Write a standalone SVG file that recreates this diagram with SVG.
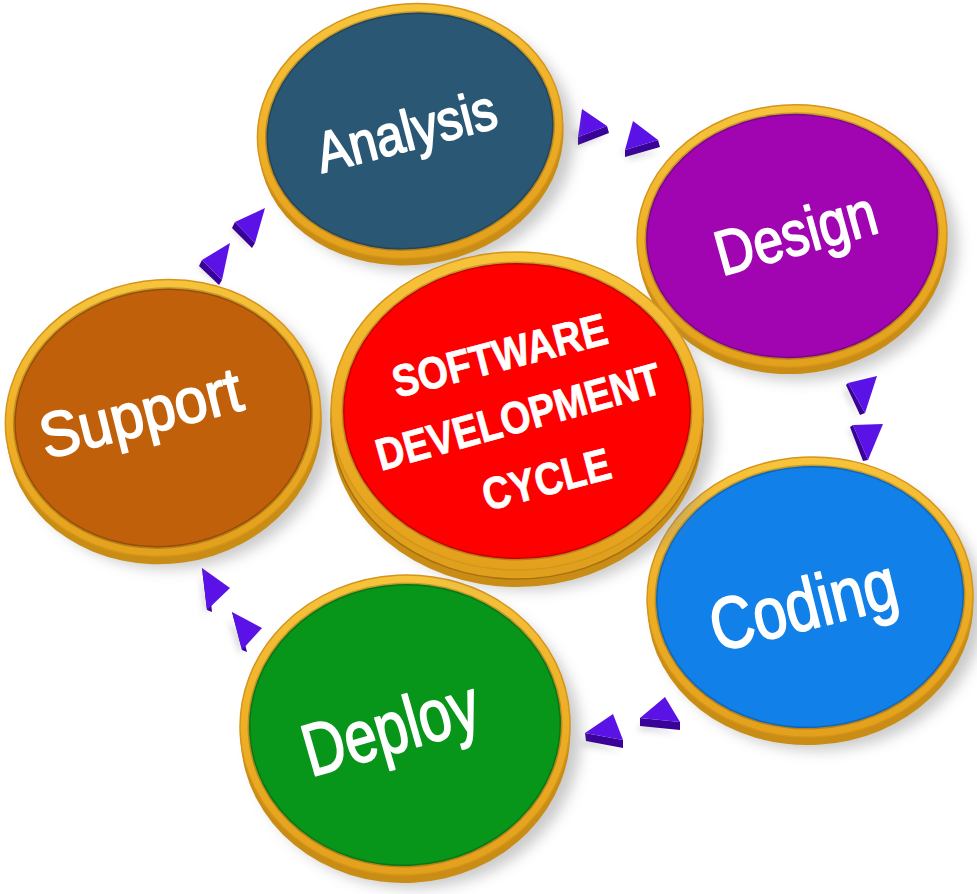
<svg xmlns="http://www.w3.org/2000/svg" width="977" height="894" viewBox="0 0 977 894">
<defs>
  <linearGradient id="gold" x1="0" y1="0" x2="0" y2="1">
    <stop offset="0" stop-color="#f7c43c"/>
    <stop offset="0.5" stop-color="#eeae25"/>
    <stop offset="1" stop-color="#e3a01c"/>
  </linearGradient>
  <filter id="blur" x="-20%" y="-20%" width="140%" height="140%">
    <feGaussianBlur stdDeviation="7"/>
  </filter>
  <filter id="ablur" x="-50%" y="-50%" width="200%" height="200%">
    <feGaussianBlur stdDeviation="3"/>
  </filter>
</defs>
<style>
  .shadow { fill: #8a8a8a; opacity: 0.45; filter: url(#blur); }
  .thick { fill: #c98c14; }
  .rim { fill: url(#gold); stroke: #d4951a; stroke-width: 1.5; }
  .face { stroke: rgba(0,0,0,0.2); stroke-width: 3; }
  .lbl { font-family: "Liberation Sans", Arial, sans-serif; fill: #ffffff; stroke: #ffffff; stroke-width: 1.8; stroke-linejoin: round; }
  .ctr { font-family: "Liberation Sans", Arial, sans-serif; font-weight: bold; fill: #ffffff; stroke: #ffffff; stroke-width: 0.8; font-size: 45px; }
  .atop { fill: #5a12e6; }
  .abot { fill: #3a0398; }
  .ash { fill: #9a9a9a; opacity: 0.35; filter: url(#ablur); }
</style>
<rect width="977" height="894" fill="#ffffff"/>

<g id="connectors">
  <!-- Analysis -> Design -->
  <g>
    <polygon class="ash" points="572,130 606,136 578,148"/>
    <polygon class="abot" points="578,137 607,126 609,133 578,145"/>
    <polygon class="atop" points="582,109 607,126 578,137"/>
    <polygon class="ash" points="620,150 660,152 630,160"/>
    <polygon class="abot" points="625,150 658,140 660,147 625,157"/>
    <polygon class="atop" points="633,121 658,140 625,150"/>
  </g>
  <!-- Design -> Coding -->
  <g>
    <polygon class="ash" points="843,392 860,420 850,386"/>
    <polygon class="abot" points="846,385 848,383 865,413 860,415"/>
    <polygon class="atop" points="848,383 877,376 865,413"/>
    <polygon class="ash" points="848,430 866,462 856,428"/>
    <polygon class="abot" points="850,427 853,425 868,460 863,461"/>
    <polygon class="atop" points="853,425 883,424 868,460"/>
  </g>
  <!-- Coding -> Deploy -->
  <g>
    <polygon class="ash" points="578,745 620,752 590,738"/>
    <polygon class="abot" points="585,733 623,740 623,748 586,741"/>
    <polygon class="atop" points="585,733 613,714 623,740"/>
    <polygon class="ash" points="636,730 678,734 646,722"/>
    <polygon class="abot" points="640,718 680,722 680,730 640,726"/>
    <polygon class="atop" points="640,718 665,697 680,722"/>
  </g>
  <!-- Deploy -> Support -->
  <g>
    <polygon class="ash" points="200,575 204,616 212,600"/>
    <polygon class="abot" points="202,568 207,610 212,612 208,575"/>
    <polygon class="atop" points="202,568 230,588 207,610"/>
    <polygon class="ash" points="228,620 240,656 246,636"/>
    <polygon class="abot" points="232,612 242,650 247,652 238,618"/>
    <polygon class="atop" points="232,612 262,628 242,650"/>
  </g>
  <!-- Support -> Analysis -->
  <g>
    <polygon class="ash" points="232,230 252,250 240,220"/>
    <polygon class="abot" points="235,222 255,243 252,248 232,228"/>
    <polygon class="atop" points="265,208 235,222 255,243"/>
    <polygon class="ash" points="198,268 220,286 208,258"/>
    <polygon class="abot" points="202,260 222,280 219,285 199,266"/>
    <polygon class="atop" points="230,243 202,260 222,280"/>
  </g>
</g>

<g id="node-analysis">
  <g transform="translate(410,131) rotate(-8)">
    <ellipse class="shadow" cx="10" cy="14" rx="153" ry="127"/>
    <ellipse class="thick" cx="0" cy="7" rx="153" ry="127"/>
    <ellipse class="rim" cx="0" cy="0" rx="153" ry="127"/>
    <ellipse class="face" cx="0" cy="0" rx="144" ry="118" fill="#2a5773"/>
  </g>
  <text class="lbl" font-size="57" textLength="184" lengthAdjust="spacingAndGlyphs" transform="translate(322,173) rotate(-14.5)">Analysis</text>
</g>

<g id="node-design">
  <g transform="translate(792,236) rotate(-4)">
    <ellipse class="shadow" cx="10" cy="14" rx="155" ry="131"/>
    <ellipse class="thick" cx="0" cy="7" rx="155" ry="131"/>
    <ellipse class="rim" cx="0" cy="0" rx="155" ry="131"/>
    <ellipse class="face" cx="0" cy="0" rx="146" ry="122" fill="#a104b1"/>
  </g>
  <text class="lbl" font-size="63" textLength="165" lengthAdjust="spacingAndGlyphs" transform="translate(722,276) rotate(-15.5)">Design</text>
</g>

<g id="node-coding">
  <g transform="translate(810,597) rotate(-3)">
    <ellipse class="shadow" cx="10" cy="14" rx="163" ry="140"/>
    <ellipse class="thick" cx="0" cy="8" rx="163" ry="140"/>
    <ellipse class="rim" cx="0" cy="0" rx="163" ry="140"/>
    <ellipse class="face" cx="0" cy="0" rx="154" ry="131" fill="#1180e8"/>
  </g>
  <text class="lbl" font-size="73" textLength="190" lengthAdjust="spacingAndGlyphs" transform="translate(717,652) rotate(-14)">Coding</text>
</g>

<g id="node-deploy">
  <g transform="translate(405,725) rotate(-3)">
    <ellipse class="shadow" cx="10" cy="14" rx="165" ry="150"/>
    <ellipse class="thick" cx="0" cy="8" rx="165" ry="150"/>
    <ellipse class="rim" cx="0" cy="0" rx="165" ry="150"/>
    <ellipse class="face" cx="0" cy="0" rx="156" ry="141" fill="#07951a"/>
  </g>
  <text class="lbl" font-size="74" textLength="180" lengthAdjust="spacingAndGlyphs" transform="translate(311,777) rotate(-16)">Deploy</text>
</g>

<g id="node-support">
  <g transform="translate(163,418) rotate(-8)">
    <ellipse class="shadow" cx="10" cy="14" rx="158" ry="138"/>
    <ellipse class="thick" cx="0" cy="8" rx="158" ry="138"/>
    <ellipse class="rim" cx="0" cy="0" rx="158" ry="138"/>
    <ellipse class="face" cx="0" cy="0" rx="149" ry="129" fill="#c1600b"/>
  </g>
  <text class="lbl" font-size="63" textLength="206" lengthAdjust="spacingAndGlyphs" transform="translate(46,459) rotate(-14)">Support</text>
</g>

<g id="node-center">
  <g transform="translate(517,411)">
    <ellipse class="shadow" cx="12" cy="20" rx="186" ry="159"/>
    <ellipse class="thick" cx="0" cy="17" rx="186" ry="159"/>
    <ellipse fill="#dfa01e" stroke="#a87010" stroke-width="1.5" cx="0" cy="9" rx="186" ry="159"/>
    <ellipse class="rim" cx="0" cy="0" rx="186" ry="159"/>
    <ellipse class="face" cx="0" cy="0" rx="174" ry="148" fill="#fe0000"/>
  </g>
  <text class="ctr" textLength="220" lengthAdjust="spacingAndGlyphs" transform="translate(397,398) rotate(-14.5)">SOFTWARE</text>
  <text class="ctr" textLength="294" lengthAdjust="spacingAndGlyphs" transform="translate(381,471) rotate(-15.5)">DEVELOPMENT</text>
  <text class="ctr" textLength="131" lengthAdjust="spacingAndGlyphs" transform="translate(487,511) rotate(-14.7)">CYCLE</text>
</g>
</svg>
